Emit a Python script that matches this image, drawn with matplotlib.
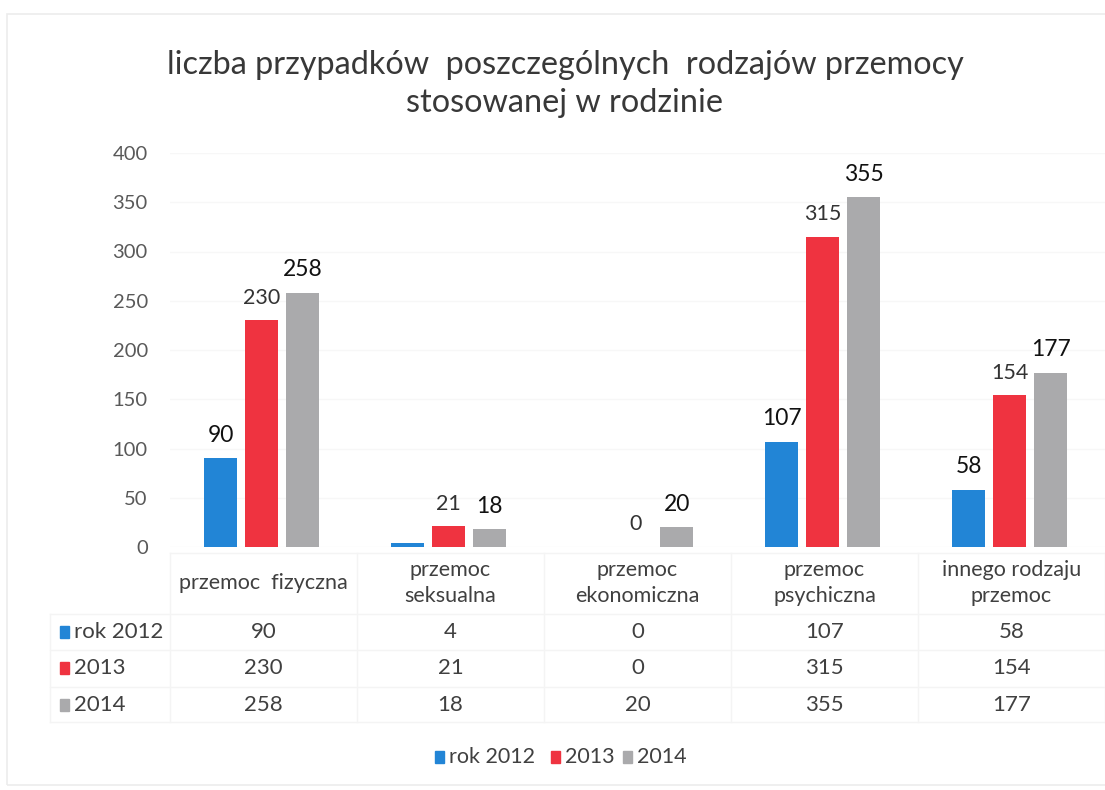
import matplotlib
matplotlib.use("Agg")
import matplotlib.pyplot as plt
from matplotlib.lines import Line2D
from matplotlib.patches import Rectangle
import numpy as np

plt.rcParams['font.family'] = ['Lato', 'DejaVu Sans']

# ---- data ----
categories = ["przemoc  fizyczna", "przemoc\nseksualna", "przemoc\nekonomiczna",
              "przemoc\npsychiczna", "innego rodzaju\nprzemoc"]
series_names = ["rok 2012", "2013", "2014"]
v2012 = [90, 4, 0, 107, 58]
v2013 = [230, 21, 0, 315, 154]
v2014 = [258, 18, 20, 355, 177]
show2012 = [True, False, False, True, True]
show2013 = [True, True, True, True, True]
show2014 = [True, True, True, True, True]
yticks = [0, 50, 100, 150, 200, 250, 300, 350, 400]
title = "liczba przypadków  poszczególnych  rodzajów przemocy\nstosowanej w rodzinie"

colors = ["#2285d6", "#ef3340", "#aaaaac"]
W, H = 1105, 790
fig = plt.figure(figsize=(W / 100, H / 100), dpi=100)
fig.patch.set_facecolor("white")

# chart border
fig.add_artist(Rectangle((7 / W, 1 - 785 / H), 1.2, (785 - 14) / H, transform=fig.transFigure,
                         fill=False, edgecolor="#ececec", linewidth=1.2))

ax = fig.add_axes([170 / W, 1 - 547 / H, 935 / W, 394 / H])
x = np.arange(len(categories))
bw = 0.176
off = 0.219
series = [v2012, v2013, v2014]
shows = [show2012, show2013, show2014]
for i, (vals, col, shw) in enumerate(zip(series, colors, shows)):
    xs = x + (i - 1) * off - 0.01
    ax.bar(xs, vals, width=bw, color=col, zorder=3)
    for xx, v, s in zip(xs, vals, shw):
        if not s:
            continue
        if i == 1:
            ax.annotate(str(v), (xx, v), xytext=(0, 9), textcoords="offset points",
                        ha="center", va="bottom", fontsize=15.5, color="#333333")
        else:
            ax.annotate(str(v), (xx, v), xytext=(0, 9), textcoords="offset points",
                        ha="center", va="bottom", fontsize=16.5, color="#111111")

ax.set_xlim(-0.5, 4.5)
ax.set_ylim(0, 400)
ax.set_yticks(yticks)
ax.tick_params(axis="y", length=0, labelsize=14.5, labelcolor="#595959", pad=16)
ax.set_xticks([])
for s in ax.spines.values():
    s.set_visible(False)
ax.grid(axis="y", color="#f7f7f7", linewidth=1, zorder=0)

# ---- data table below the axis ----
tr = ax.get_xaxis_transform()
def yf(py):
    return (547 - py) / 394

line_kw = dict(color="#f4f4f4", linewidth=1, transform=tr, clip_on=False)
# horizontal lines
for py in [553, 614, 650, 687, 722]:
    x0 = -0.5 if py == 553 else (50 - 170) / 187 - 0.5
    ax.add_line(Line2D([x0, 4.5], [yf(py), yf(py)], **line_kw))
# vertical lines
for k in range(6):
    ax.add_line(Line2D([k - 0.5, k - 0.5], [yf(553), yf(722)], **line_kw))
ax.add_line(Line2D([(50 - 170) / 187 - 0.5] * 2, [yf(614), yf(722)], **line_kw))

for k, c in enumerate(categories):
    ax.text(k, yf(583), c, transform=tr, ha="center", va="center", fontsize=15.5,
            color="#404040", linespacing=1.35, clip_on=False)

row_y = [632, 668, 705]
for vals, name, col, py in zip(series, series_names, colors, row_y):
    fig.add_artist(Rectangle((60 / W, 1 - (py + 6) / H), 9 / W, 12 / H,
                             transform=fig.transFigure, color=col))
    fig.text(74 / W, 1 - py / H, name, ha="left", va="center", fontsize=16,
             color="#404040")
    for k, v in enumerate(vals):
        ax.text(k, yf(py), str(v), transform=tr, ha="center", va="center",
                fontsize=16, color="#404040", clip_on=False)

# ---- bottom legend ----
leg_x = [435, 551, 623]
for name, col, lx in zip(series_names, colors, leg_x):
    fig.add_artist(Rectangle((lx / W, 1 - 763 / H), 9 / W, 12 / H,
                             transform=fig.transFigure, color=col))
    fig.text((lx + 14) / W, 1 - 757 / H, name, ha="left", va="center", fontsize=15.5,
             color="#404040")

fig.text(565 / W, 1 - 84 / H, title, ha="center", va="center", fontsize=23.3,
         color="#383838", linespacing=1.3)

fig.savefig("out.png", dpi=100, facecolor="white")
